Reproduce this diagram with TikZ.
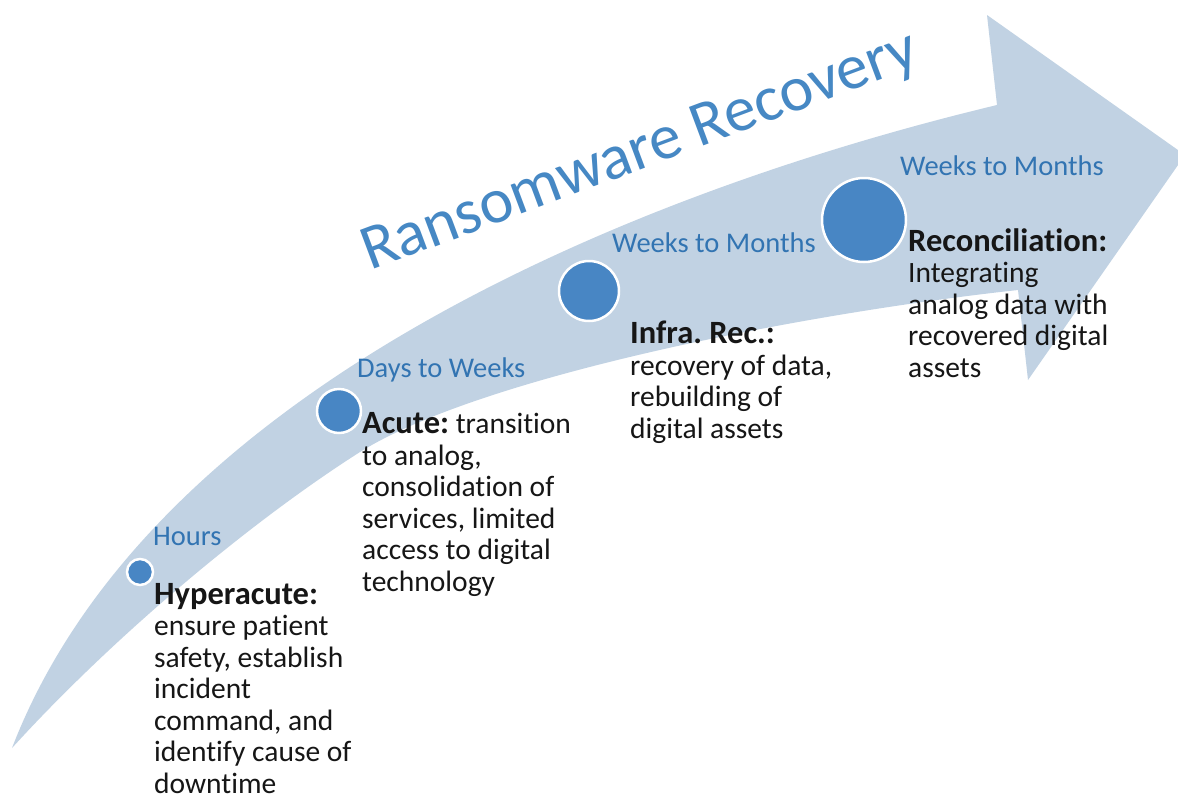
\documentclass[tikz,border=0pt]{standalone}
\usepackage{fontspec}
\setmainfont{Carlito}[Ligatures={NoCommon,NoContextual}]
\frenchspacing
\definecolor{band}{RGB}{193,210,227}
\definecolor{dot}{RGB}{72,134,196}
\definecolor{ttl}{RGB}{70,136,196}
\definecolor{lbl}{RGB}{50,116,178}
\definecolor{txt}{RGB}{22,22,22}
\newcommand{\hdtext}[1]{{\fontsize{32.5}{32}\selectfont\bfseries #1}}
\begin{document}
\begin{tikzpicture}[x=1pt,y=-1pt,
  phase/.style={font=\fontsize{28.5}{31.5}\selectfont, text=lbl, inner sep=0pt, anchor=base west},
  desc/.style={font=\fontsize{29.5}{31.5}\selectfont, text=txt, align=left, inner sep=0pt, anchor=base west},
  stage/.style={circle, fill=dot, draw=white, line width=2.5pt, inner sep=0pt}
]
\clip (0,0) rectangle (1178,798);
\fill[white] (0,0) rectangle (1178,798);
% curved arrow band
\fill[band] (12,748) .. controls (150,390) and (630,193) .. (997,105)
  -- (987,15) -- (1185,155) -- (1028,380) -- (1018,290)
  .. controls (798,314) and (480,377) .. (360,452)
  .. controls (250,522) and (113,637) .. cycle;
% title
\node[rotate=20.5, anchor=base west, font=\fontsize{64}{64}\selectfont, text=ttl, inner sep=0pt] (title) at (370,271) {Ransomware Recovery};
% stage dots
\node[stage, minimum size=26pt] (c1) at (140,572) {};
\node[stage, minimum size=44pt] (c2) at (339,411) {};
\node[stage, minimum size=60pt] (c3) at (589,291) {};
\node[stage, minimum size=84pt] (c4) at (864,220) {};
% phase labels
\node[phase] (p1) at (153,545) {Hours};
\node[phase] (p2) at (357,377) {Days to Weeks};
\node[phase] (p3) at (612,252) {Weeks to Months};
\node[phase] (p4) at (900,175) {Weeks to Months};
% descriptions (anchored at the baseline of their last line)
\node[desc] (d1) at (154,793) {\hdtext{Hyperacute:}\\ensure patient\\safety, establish\\incident\\command, and\\identify cause of\\downtime};
\node[desc] (d2) at (362,591) {\hdtext{Acute:} transition\\to analog,\\consolidation of\\services, limited\\access to digital\\technology};
\node[desc] (d3) at (630,438) {\hdtext{Infra. Rec.:}\\recovery of data,\\rebuilding of\\digital assets};
\node[desc] (d4) at (908,377) {\hdtext{Reconciliation:}\\Integrating\\analog data with\\recovered digital\\assets};
\end{tikzpicture}
\end{document}
